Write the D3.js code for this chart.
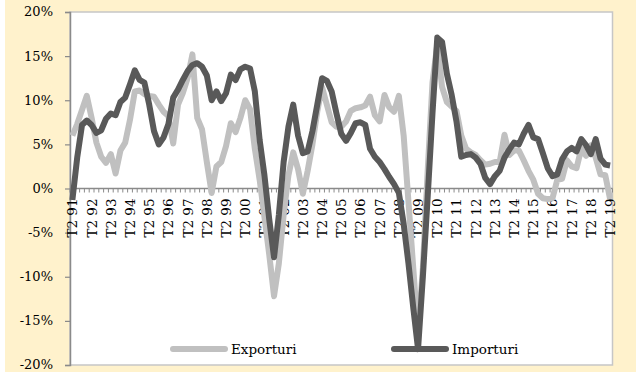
<!DOCTYPE html>
<html><head><meta charset="utf-8">
<script src="https://cdn.jsdelivr.net/npm/d3@7"></script>
<style>
body{margin:0;background:#fff}
svg{display:block}
text{font-family:"DejaVu Serif",serif;fill:#000}
</style>
</head><body>
<svg id="c" width="636" height="372"></svg>
<script>
// ---- data ----
const tickLabels = ["T2 91","T2 92","T2 93","T2 94","T2 95","T2 96","T2 97","T2 98","T2 99","T2 00",
  "T2 01","T2 02","T2 03","T2 04","T2 05","T2 06","T2 07","T2 08","T2 09","T2 10",
  "T2 11","T2 12","T2 13","T2 14","T2 15","T2 16","T2 17","T2 18","T2 19"];
const yTicks = [-20,-15,-10,-5,0,5,10,15,20];
const seriesNames = ["Exporturi","Importuri"];
const exporturi = [6.0,7.3,8.9,10.5,8.0,5.2,3.6,2.9,3.9,1.7,
  4.3,5.2,7.8,11.0,11.1,10.7,10.5,10.4,9.5,8.7,
  8.2,5.1,9.5,10.8,12.5,15.2,8.0,6.7,3.0,-0.5,
  2.5,3.0,4.8,7.4,6.4,8.0,10.0,9.0,4.5,1.0,
  -3.2,-7.5,-12.2,-8.5,-3.0,1.5,4.1,2.2,-0.6,2.0,
  5.0,8.7,11.5,9.5,7.5,7.0,7.0,7.6,8.8,9.1,
  9.2,9.4,10.4,8.3,7.6,10.6,9.2,8.7,10.5,6.0,
  -1.5,-9.0,-16.5,-9.0,2.0,12.0,16.3,11.5,9.8,9.3,
  8.8,6.0,4.5,4.1,3.8,3.2,2.7,2.8,3.0,3.0,
  6.1,3.8,4.3,4.3,3.2,2.0,1.0,-0.6,-1.1,-1.2,
  -1.1,1.0,1.1,3.2,2.5,2.3,4.5,3.7,4.9,3.5,
  1.6,1.5,-1.2];
const importuri = [-1.3,3.5,7.2,7.7,7.2,6.3,6.6,7.9,8.5,8.3,
  9.8,10.3,11.8,13.4,12.3,12.0,9.5,6.5,5.0,5.8,
  7.3,10.3,11.2,12.3,13.3,14.0,14.2,13.8,12.8,10.0,
  11.0,9.9,10.8,12.9,12.3,13.5,13.8,13.6,11.0,5.5,
  1.5,-3.5,-7.8,-3.0,3.0,7.0,9.5,6.0,4.0,4.2,
  6.5,9.5,12.5,12.2,11.0,8.5,6.2,5.4,6.3,7.4,
  7.5,7.2,4.5,3.6,3.0,2.2,1.3,0.5,-0.5,-4.0,
  -8.5,-13.5,-18.2,-10.0,-1.0,8.5,17.1,16.6,13.0,10.6,
  7.6,3.6,3.8,3.9,3.5,2.8,1.2,0.5,1.4,2.0,
  3.5,4.4,5.2,5.0,6.2,7.2,5.8,5.6,4.0,2.3,
  1.4,1.6,3.3,4.2,4.6,4.2,5.6,4.9,3.9,5.6,
  3.4,2.7,2.6];

// categories: quarters from T2 91 to T2 19
const categories = [];
tickLabels.forEach((t, k) => {
  const yy = t.split(" ")[1];
  if (k < tickLabels.length - 1) {
    const ny = tickLabels[k + 1].split(" ")[1];
    categories.push("T2 " + yy, "T3 " + yy, "T4 " + yy, "T1 " + ny);
  } else {
    categories.push("T2 " + yy);
  }
});

// ---- layout ----
const W = 636, H = 372;
const plot = {l: 70, r: 612.5, t: 12, b: 365};
const svg = d3.select("#c");
svg.append("rect").attr("x", 0).attr("y", 0).attr("width", W).attr("height", H).attr("fill", "#fff");
svg.append("rect").attr("x", 5).attr("y", 0).attr("width", W - 5).attr("height", H).attr("fill", "#fff2cc");
svg.append("rect").attr("x", plot.l).attr("y", plot.t).attr("width", plot.r - plot.l).attr("height", plot.b - plot.t)
  .attr("fill", "#fff").attr("stroke", "#c6c6c6").attr("stroke-width", 1.5);

const x = d3.scaleBand().domain(categories).range([plot.l, plot.r]).padding(0);
const y = d3.scaleLinear().domain([-20, 20]).range([plot.b, plot.t]);
const cx = c => x(c) + x.bandwidth() / 2;

// Y axis
const yAxis = svg.append("g").attr("transform", `translate(${plot.l},0)`)
  .call(d3.axisLeft(y).tickValues(yTicks).tickFormat(d => d + "%").tickSize(5).tickPadding(12));
yAxis.select(".domain").attr("stroke", "#8a8a8a").attr("stroke-width", 1.5);
yAxis.selectAll(".tick line").attr("stroke", "#8a8a8a").attr("stroke-width", 1.2);
yAxis.selectAll(".tick text").attr("font-size", 13).attr("font-family", "DejaVu Serif").attr("fill", "#000").attr("dy", "0.3em");

// X axis at 0
const xg = svg.append("g").attr("transform", `translate(0,${y(0)})`);
xg.append("line").attr("x1", plot.l).attr("x2", plot.r).attr("y1", 0).attr("y2", 0)
  .attr("stroke", "#8a8a8a").attr("stroke-width", 1.5);
xg.selectAll("line.tk").data(categories.concat([null])).enter().append("line").attr("class", "tk")
  .attr("x1", d => d === null ? plot.r : x(d)).attr("x2", d => d === null ? plot.r : x(d))
  .attr("y1", 0).attr("y2", 4).attr("stroke", "#8a8a8a").attr("stroke-width", 1);
xg.selectAll("text.xl").data(tickLabels).enter().append("text").attr("class", "xl")
  .attr("transform", d => `translate(${cx(d) + 5},10) rotate(-90)`)
  .attr("text-anchor", "end").attr("font-size", 13.5).text(d => d);

// lines
const line = d3.line().x((d, i) => cx(categories[i])).y(d => y(d)).curve(d3.curveLinear);
svg.append("path").datum(exporturi).attr("d", line).attr("fill", "none")
  .attr("stroke", "#c0c0c0").attr("stroke-width", 6).attr("stroke-linejoin", "round");
svg.append("path").datum(importuri).attr("d", line).attr("fill", "none")
  .attr("stroke", "#595959").attr("stroke-width", 6).attr("stroke-linejoin", "round");

// legend
const legendItems = [
  {name: seriesNames[0], color: "#c0c0c0", x1: 173, x2: 225, tx: 231},
  {name: seriesNames[1], color: "#595959", x1: 394, x2: 446, tx: 452}
];
const lg = svg.append("g");
legendItems.forEach(it => {
  lg.append("line").attr("x1", it.x1).attr("x2", it.x2).attr("y1", 349).attr("y2", 349)
    .attr("stroke", it.color).attr("stroke-width", 6).attr("stroke-linecap", "round");
  lg.append("text").attr("x", it.tx).attr("y", 349).attr("dy", "0.35em").attr("font-size", 13.5).text(it.name);
});
</script>
</body></html>
